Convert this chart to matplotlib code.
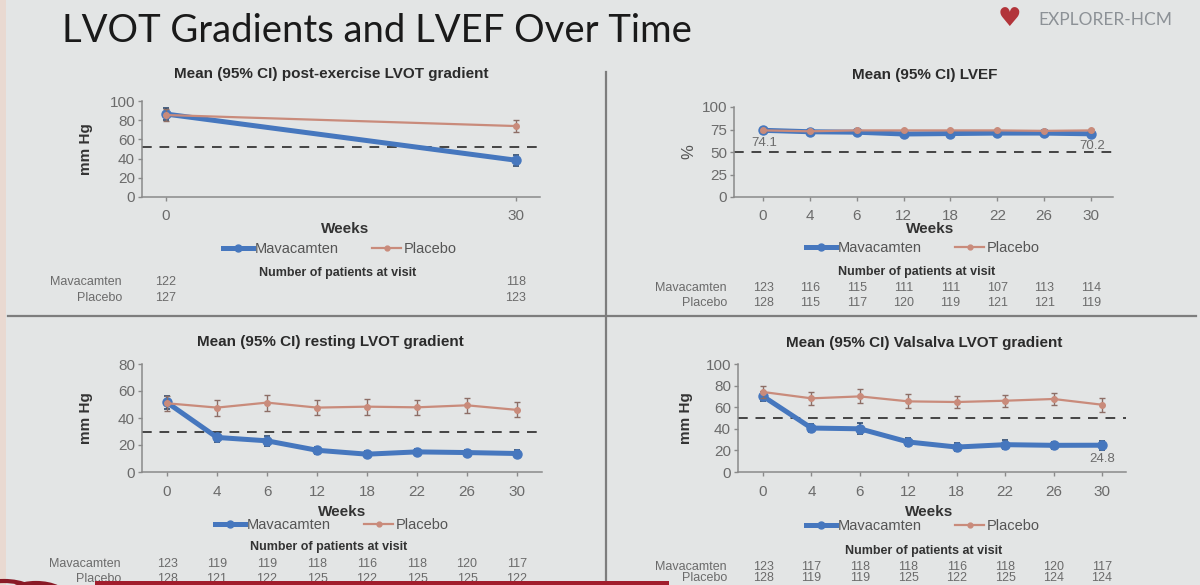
import matplotlib
matplotlib.use("Agg")
import matplotlib.pyplot as plt
from matplotlib.lines import Line2D
from matplotlib.patches import Rectangle, Circle
from matplotlib.transforms import blended_transform_factory

# ---------------- data ----------------
weeks_ex = ["0", "30"]
weeks = ["0", "4", "6", "12", "18", "22", "26", "30"]

ex_mava = [86.4, 38.3]
ex_mava_err = [6.0, 5.5]
ex_plac = [85.4, 73.9]
ex_plac_err = [6.5, 6.0]
ex_n_mava = [122, 118]
ex_n_plac = [127, 123]
ex_ref = 52

lvef_mava = [74.1, 72.5, 72.0, 70.0, 70.5, 71.0, 71.0, 70.2]
lvef_mava_err = [1.5, 1.5, 1.5, 1.5, 1.5, 1.5, 1.5, 1.5]
lvef_plac = [74.0, 73.0, 74.0, 74.0, 74.0, 74.0, 73.5, 74.0]
lvef_plac_err = [1.5, 1.5, 1.5, 1.5, 1.5, 1.5, 1.5, 1.5]
lvef_n_mava = [123, 116, 115, 111, 111, 107, 113, 114]
lvef_n_plac = [128, 115, 117, 120, 119, 121, 121, 119]
lvef_ref = 50

rest_mava = [51.5, 25.6, 23.1, 16.1, 13.2, 14.9, 14.4, 13.7]
rest_mava_err = [5.0, 3.5, 3.5, 2.5, 2.0, 2.5, 2.0, 2.5]
rest_plac = [50.9, 47.7, 51.4, 47.7, 48.4, 47.9, 49.4, 46.0]
rest_plac_err = [5.5, 6.0, 6.0, 5.5, 6.0, 5.5, 5.5, 5.5]
rest_n_mava = [123, 119, 119, 118, 116, 118, 120, 117]
rest_n_plac = [128, 121, 122, 125, 122, 125, 125, 122]
rest_ref = 30

vals_mava = [70.1, 40.7, 40.0, 27.8, 23.1, 25.3, 24.7, 24.8]
vals_mava_err = [4.0, 4.0, 5.0, 3.5, 3.5, 4.0, 3.5, 4.0]
vals_plac = [74.1, 68.2, 70.0, 65.4, 64.8, 66.0, 67.6, 62.3]
vals_plac_err = [5.5, 6.0, 6.5, 6.5, 6.0, 5.5, 6.0, 6.5]
vals_n_mava = [123, 117, 118, 118, 116, 118, 120, 117]
vals_n_plac = [128, 119, 119, 125, 122, 125, 124, 124]
vals_ref = 50

# ---------------- style ----------------
W, H = 1200, 585
BG = "#e3e5e5"
BLUE = "#4677be"
BLUE_ERR = "#2e4a6e"
SALMON = "#c98b7b"
SALMON_ERR = "#8d6e66"
GREY = "#6b6b6b"
DARK = "#2b2b2b"
FONT = "Liberation Sans"

plt.rcParams["font.family"] = [FONT, "DejaVu Sans"]

fig = plt.figure(figsize=(W / 100, H / 100), dpi=100, facecolor=BG)


def fx(x):
    return x / W


def fy(y):
    return 1 - y / H


def px_axes(l, t, r, b):
    ax = fig.add_axes([fx(l), fy(b), (r - l) / W, (b - t) / H])
    ax.set_facecolor("none")
    return ax


def style_axes(ax, cats, p0, p1, l, r, ylim, yticks):
    n = len(cats)
    scale = (p1 - p0) / (n - 1)
    ax.set_xlim((l - p0) / scale, (r - p0) / scale)
    ax.set_ylim(*ylim)
    ax.set_xticks(range(n))
    ax.set_xticklabels(cats)
    ax.set_yticks(yticks)
    for s in ["top", "right"]:
        ax.spines[s].set_visible(False)
    for s in ["left", "bottom"]:
        ax.spines[s].set_color("#8a8a8a")
        ax.spines[s].set_linewidth(1.1)
    ax.tick_params(axis="x", direction="out", length=3, width=1, color="#8a8a8a",
                   labelsize=11, labelcolor=GREY, pad=6)
    ax.tick_params(axis="y", direction="out", length=3, width=1, color="#8a8a8a",
                   labelsize=11, labelcolor=GREY, pad=2)


def draw_series(ax, cats, mava, mava_err, plac, plac_err, ref):
    x = list(range(len(cats)))
    ax.axhline(ref, color="#444444", lw=1.4, ls=(0, (5, 4)), zorder=1)
    ax.errorbar(x, mava, yerr=mava_err, color=BLUE, lw=3.6, marker="o", ms=6.5,
                mfc=BLUE, mec=BLUE, ecolor=BLUE_ERR, elinewidth=1.2, capsize=2.5,
                capthick=1.2, zorder=3)
    ax.errorbar(x, plac, yerr=plac_err, color=SALMON, lw=1.6, marker="o", ms=4,
                mfc=SALMON, mec=SALMON, ecolor=SALMON_ERR, elinewidth=1.0, capsize=2.5,
                capthick=1.0, zorder=4)


def panel_text(ax, title, title_xy, weeks_xy, leg_xy, np_xy, rows_y, label_x,
               n_mava, n_plac, ylab, ylab_x, ylab_bold=True):
    fig.text(fx(title_xy[0]), fy(title_xy[1]), title, ha="center", va="center",
             fontsize=11, fontweight="bold", color=DARK)
    fig.text(fx(weeks_xy[0]), fy(weeks_xy[1]), "Weeks", ha="center", va="center",
             fontsize=11, fontweight="bold", color="#333333")
    handles = [Line2D([], [], color=BLUE, lw=3.6, marker="o", ms=5),
               Line2D([], [], color=SALMON, lw=1.6, marker="o", ms=3.5)]
    leg = fig.legend(handles, ["Mavacamten", "Placebo"], loc="center",
                     bbox_to_anchor=(fx(leg_xy[0]), fy(leg_xy[1])), ncol=2, frameon=False,
                     fontsize=10.5, handlelength=2.0, handletextpad=0.15, columnspacing=2.3,
                     borderpad=0, borderaxespad=0)
    for t in leg.get_texts():
        t.set_color("#555555")
    fig.text(fx(np_xy[0]), fy(np_xy[1]), "Number of patients at visit", ha="center",
             va="center", fontsize=9, fontweight="bold", color="#333333")
    fig.text(fx(label_x), fy(rows_y[0]), "Mavacamten", ha="right", va="center",
             fontsize=9, color=GREY)
    fig.text(fx(label_x), fy(rows_y[1]), "Placebo", ha="right", va="center",
             fontsize=9, color=GREY)
    tr = blended_transform_factory(ax.transData, fig.transFigure)
    for i, (a, b) in enumerate(zip(n_mava, n_plac)):
        fig.text(i, fy(rows_y[0]), str(a), transform=tr, ha="center", va="center",
                 fontsize=9, color=GREY)
        fig.text(i, fy(rows_y[1]), str(b), transform=tr, ha="center", va="center",
                 fontsize=9, color=GREY)
    yc = (ax.get_position().y0 + ax.get_position().y1) / 2
    fig.text(fx(ylab_x), yc, ylab, rotation=90, ha="center", va="center",
             fontsize=11 if ylab_bold else 12,
             fontweight="bold" if ylab_bold else "normal",
             color="#333333" if ylab_bold else "#555555")


# ---------- top-left: post-exercise ----------
ax1 = px_axes(142, 101, 540, 197)
style_axes(ax1, weeks_ex, 166, 516, 142, 540, (0, 100), range(0, 101, 20))
draw_series(ax1, weeks_ex, ex_mava, ex_mava_err, ex_plac, ex_plac_err, ex_ref)
panel_text(ax1, "Mean (95% CI) post-exercise LVOT gradient", (331, 74), (345, 229),
           (340, 249), (338, 273), (282, 298), 122, ex_n_mava, ex_n_plac, "mm Hg", 86)

# ---------- top-right: LVEF ----------
ax2 = px_axes(734, 107, 1113, 197)
style_axes(ax2, weeks, 763, 1091, 734, 1113, (0, 100), range(0, 101, 25))
draw_series(ax2, weeks, lvef_mava, lvef_mava_err, lvef_plac, lvef_plac_err, lvef_ref)
panel_text(ax2, "Mean (95% CI) LVEF", (925, 75), (930, 229), (923, 248), (917, 272),
           (288, 303), 727, lvef_n_mava, lvef_n_plac, "%", 689, ylab_bold=False)
ax2.annotate(f"{lvef_mava[0]}", (0, lvef_mava[0]), xytext=(1, -9), textcoords="offset points",
             ha="center", va="center", fontsize=9.5, color=GREY)
ax2.annotate(f"{lvef_mava[-1]}", (len(weeks) - 1, lvef_mava[-1]), xytext=(1, -9),
             textcoords="offset points", ha="center", va="center", fontsize=9.5, color=GREY)

# ---------- bottom-left: resting ----------
ax3 = px_axes(142, 364, 542, 472)
style_axes(ax3, weeks, 167, 517, 142, 542, (0, 80), range(0, 81, 20))
draw_series(ax3, weeks, rest_mava, rest_mava_err, rest_plac, rest_plac_err, rest_ref)
panel_text(ax3, "Mean (95% CI) resting LVOT gradient", (330, 342), (342, 512),
           (332, 525), (329, 547), (564, 579), 121, rest_n_mava, rest_n_plac, "mm Hg", 86)

# ---------- bottom-right: Valsalva ----------
ax4 = px_axes(738, 364, 1126, 472)
style_axes(ax4, weeks, 763, 1102, 738, 1126, (0, 100), range(0, 101, 20))
draw_series(ax4, weeks, vals_mava, vals_mava_err, vals_plac, vals_plac_err, vals_ref)
panel_text(ax4, "Mean (95% CI) Valsalva LVOT gradient", (924, 343), (929, 512),
           (923, 526), (924, 551), (567, 578), 727, vals_n_mava, vals_n_plac, "mm Hg", 686)
ax4.annotate(f"{vals_mava[-1]}", (len(weeks) - 1, vals_mava[-1]), xytext=(0, -10),
             textcoords="offset points", ha="center", va="center", fontsize=9.5, color=GREY)

# ---------- slide decorations ----------
fig.text(fx(62), fy(31), "LVOT Gradients and LVEF Over Time", ha="left", va="center",
         fontsize=27.5, color="#1a1a1a", family=["Lato", "DejaVu Sans"])
fig.text(fx(1038), fy(20), "EXPLORER-HCM", ha="left", va="center", fontsize=12.5,
         color="#8c9196", family=["Lato", "DejaVu Sans"])
fig.text(fx(1009), fy(19), "\u2665", ha="center", va="center", fontsize=19,
         color="#b2343a", family=["DejaVu Sans"])

fig.add_artist(Line2D([fx(606), fx(606)], [fy(72), fy(585)], color="#7d7d7d", lw=1.6))
fig.add_artist(Line2D([fx(8), fx(1196)], [fy(316), fy(316)], color="#7d7d7d", lw=1.6))
fig.add_artist(Rectangle((0, 0), fx(6), 1, transform=fig.transFigure, color="#e9d9d1",
                         lw=0, zorder=0))
fig.add_artist(Rectangle((fx(95), 0), fx(669) - fx(95), fy(581), transform=fig.transFigure,
                         color="#a11d2c", lw=0, zorder=10))
for cx, r in [(4, 17), (36, 15)]:
    fig.add_artist(Circle((fx(cx), fy(598)), r / H, transform=fig.transFigure,
                          facecolor="none", edgecolor="#8a1a26", lw=3, zorder=10))

fig.savefig("out.png", dpi=100, facecolor=BG)
